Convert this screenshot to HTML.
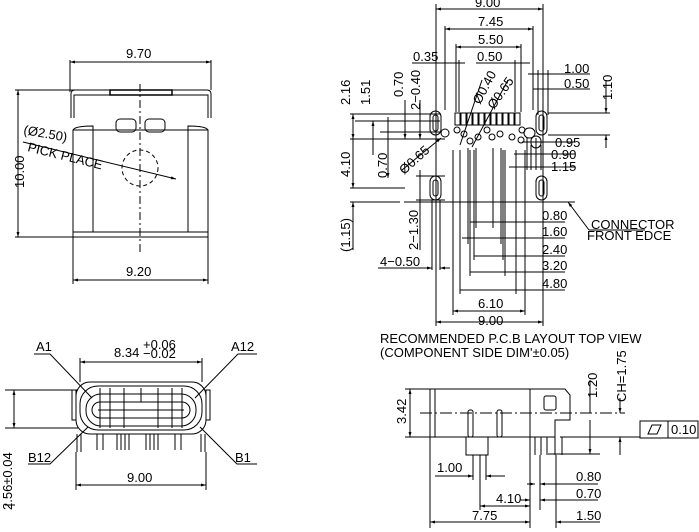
<!DOCTYPE html>
<html><head><style>body{margin:0;background:#fff}svg{display:block}text{font-family:"Liberation Sans",sans-serif;font-size:13px;fill:#000}</style></head><body>
<svg width="699" height="532" viewBox="0 0 699 532" xmlns="http://www.w3.org/2000/svg">
<defs><marker id="a" viewBox="0 0 10 10" refX="10" refY="5" markerWidth="7" markerHeight="5" orient="auto-start-reverse"><path d="M0,2L10,5L0,8z" fill="#000"/></marker></defs>
<g stroke="#000" stroke-width="1" fill="none">
<line x1="70" y1="60" x2="70" y2="92"/><line x1="211" y1="60" x2="211" y2="90"/>
<line x1="70" y1="62" x2="211" y2="62" marker-start="url(#a)" marker-end="url(#a)"/>
<path d="M71,118V94Q71,90 75,90H207Q211,90 211,94V118"/>
<path d="M74,118V95H208V118"/>
<rect x="110" y="90" width="62" height="5" stroke-width="1.5"/>
<rect x="73" y="130" width="135" height="107"/>
<line x1="73" y1="232" x2="208" y2="232"/>
<line x1="93" y1="130" x2="93" y2="232"/><line x1="188" y1="130" x2="188" y2="232"/>
<path d="M73,130Q75,126 93,126V130M208,130Q206,126 188,126V130"/>
<rect x="116" y="119" width="20" height="13" rx="4"/><rect x="145" y="119" width="20" height="13" rx="4"/>
<line x1="140" y1="84" x2="140" y2="252" stroke-dasharray="8,3,2,3"/>
<circle cx="140" cy="168" r="18" stroke-dasharray="4,3"/>
<line x1="23" y1="142" x2="176" y2="179" marker-end="url(#a)"/>
<line x1="15" y1="90" x2="75" y2="90"/><line x1="15" y1="237" x2="73" y2="237"/>
<line x1="18" y1="90" x2="18" y2="237" marker-start="url(#a)" marker-end="url(#a)"/>
<line x1="73" y1="237" x2="73" y2="284"/><line x1="208" y1="237" x2="208" y2="284"/>
<line x1="73" y1="280" x2="208" y2="280" marker-start="url(#a)" marker-end="url(#a)"/>
<line x1="436" y1="4" x2="436" y2="326"/><line x1="543" y1="4" x2="543" y2="326"/>
<line x1="436" y1="9" x2="543" y2="9" marker-start="url(#a)" marker-end="url(#a)"/>
<line x1="445" y1="26" x2="445" y2="110"/><line x1="533" y1="26" x2="533" y2="110"/>
<line x1="445" y1="29" x2="533" y2="29" marker-start="url(#a)" marker-end="url(#a)"/>
<line x1="456" y1="44" x2="456" y2="112"/><line x1="521" y1="44" x2="521" y2="112"/>
<line x1="456" y1="47" x2="521" y2="47" marker-start="url(#a)" marker-end="url(#a)"/>
<line x1="412" y1="63" x2="465" y2="63"/><line x1="476" y1="63" x2="530" y2="63"/>
<line x1="459" y1="60" x2="459" y2="112"/><line x1="515" y1="60" x2="515" y2="112"/>
<line x1="528" y1="74" x2="590" y2="74"/><line x1="533" y1="89" x2="590" y2="89"/>
<line x1="538" y1="70" x2="538" y2="115"/><line x1="543" y1="70" x2="543" y2="115"/>
<line x1="548" y1="70" x2="548" y2="115"/>
<g>
<rect x="455" y="113" width="5" height="12"/><rect x="461" y="113" width="5" height="12"/><rect x="467" y="113" width="5" height="12"/><rect x="473" y="113" width="5" height="12"/><rect x="479" y="113" width="5" height="12"/><rect x="485" y="113" width="5" height="12"/><rect x="491" y="113" width="5" height="12"/><rect x="497" y="113" width="5" height="12"/><rect x="503" y="113" width="5" height="12"/><rect x="509" y="113" width="5" height="12"/><rect x="515" y="113" width="5" height="12"/>
</g>
<rect x="430" y="111" width="11" height="24" rx="5.5"/><rect x="433" y="115" width="5" height="16" rx="2.5"/>
<rect x="536" y="111" width="11" height="24" rx="5.5"/><rect x="539" y="115" width="5" height="16" rx="2.5"/>
<rect x="430" y="176" width="11" height="24" rx="5.5"/><rect x="433" y="180" width="5" height="16" rx="2.5"/>
<rect x="536" y="176" width="11" height="24" rx="5.5"/><rect x="539" y="180" width="5" height="16" rx="2.5"/>
<circle cx="445" cy="133" r="4"/><circle cx="457" cy="130" r="3"/><circle cx="470" cy="141" r="3"/><circle cx="464" cy="134" r="3"/><circle cx="478" cy="137" r="3"/><circle cx="487" cy="130" r="3"/><circle cx="492" cy="137" r="3"/><circle cx="500" cy="134" r="3"/><circle cx="512" cy="137" r="3"/><circle cx="521" cy="140" r="3"/>
<circle cx="522" cy="130" r="3"/><rect x="524" y="128" width="11" height="10" rx="5"/><rect x="531" y="136" width="10" height="12" rx="5"/>
<line x1="350" y1="114" x2="440" y2="114"/><line x1="355" y1="121" x2="440" y2="121"/>
<line x1="350" y1="139" x2="445" y2="139"/><line x1="380" y1="132" x2="440" y2="132"/>
<line x1="353" y1="114" x2="353" y2="139" marker-start="url(#a)" marker-end="url(#a)"/>
<line x1="373" y1="121" x2="373" y2="155" marker-start="url(#a)"/>
<line x1="388" y1="117" x2="388" y2="178" marker-end="url(#a)"/>
<line x1="405" y1="100" x2="405" y2="139" marker-end="url(#a)"/>
<line x1="420" y1="100" x2="420" y2="139" marker-end="url(#a)"/>
<line x1="353" y1="139" x2="353" y2="188" marker-end="url(#a)"/>
<line x1="350" y1="188" x2="405" y2="188"/>
<line x1="350" y1="202" x2="400" y2="202"/><line x1="404" y1="202" x2="575" y2="202"/>
<line x1="353" y1="202" x2="353" y2="250" marker-start="url(#a)"/>
<line x1="420" y1="170" x2="420" y2="250"/>
<line x1="416" y1="176" x2="445" y2="176"/><line x1="416" y1="200" x2="445" y2="200"/>
<line x1="432" y1="200" x2="432" y2="270"/><line x1="440" y1="200" x2="440" y2="270"/>
<line x1="378" y1="268" x2="432" y2="268" marker-end="url(#a)"/><line x1="450" y1="268" x2="440" y2="268" marker-end="url(#a)"/>
<line x1="402" y1="170" x2="441" y2="138" marker-end="url(#a)"/>
<line x1="460" y1="145" x2="482" y2="80"/><line x1="472" y1="147" x2="508" y2="80"/>
<line x1="522" y1="142" x2="575" y2="142"/><line x1="514" y1="154" x2="575" y2="154"/><line x1="509" y1="167" x2="575" y2="167"/>
<line x1="527" y1="138" x2="527" y2="170"/><line x1="536" y1="138" x2="536" y2="170"/><line x1="531" y1="145" x2="531" y2="170"/><line x1="541" y1="145" x2="541" y2="170"/>
<line x1="548" y1="113" x2="610" y2="113"/><line x1="548" y1="135" x2="610" y2="135"/>
<line x1="606" y1="80" x2="606" y2="113" marker-end="url(#a)"/><line x1="606" y1="148" x2="606" y2="135" marker-end="url(#a)"/>
<line x1="568" y1="202" x2="589" y2="230" marker-start="url(#a)"/><line x1="589" y1="230" x2="645" y2="230"/>
<line x1="476" y1="148" x2="476" y2="228"/><line x1="493" y1="148" x2="493" y2="228"/>
<line x1="468" y1="148" x2="468" y2="244"/><line x1="501" y1="148" x2="501" y2="244"/>
<line x1="474" y1="150" x2="474" y2="260"/><line x1="503" y1="150" x2="503" y2="260"/>
<line x1="470" y1="150" x2="470" y2="276"/><line x1="505" y1="150" x2="505" y2="276"/>
<line x1="460" y1="150" x2="460" y2="294"/><line x1="516" y1="150" x2="516" y2="294"/>
<line x1="453" y1="150" x2="453" y2="315"/><line x1="525" y1="150" x2="525" y2="315"/>
<line x1="470" y1="222" x2="565" y2="222"/><line x1="462" y1="238" x2="565" y2="238"/><line x1="474" y1="256" x2="565" y2="256"/><line x1="470" y1="272" x2="565" y2="272"/><line x1="460" y1="290" x2="565" y2="290"/>
<line x1="453" y1="311" x2="525" y2="311" marker-start="url(#a)" marker-end="url(#a)"/>
<line x1="436" y1="322" x2="543" y2="322" marker-start="url(#a)" marker-end="url(#a)"/>
<line x1="80" y1="358" x2="80" y2="382"/><line x1="202" y1="358" x2="202" y2="382"/>
<line x1="80" y1="362" x2="202" y2="362" marker-start="url(#a)" marker-end="url(#a)"/>
<path d="M34,354H50L92,398M257,354H238L195,398M28,464H50L88,427M257,464H237L200,427"/>
<rect x="76" y="382" width="130" height="52" rx="14"/>
<rect x="72" y="390" width="4" height="30"/><rect x="206" y="390" width="4" height="30"/>
<rect x="80" y="386" width="122" height="44" rx="18"/>
<rect x="86" y="394" width="110" height="32" rx="15"/>
<rect x="92" y="402" width="98" height="16" rx="8"/>
<line x1="98" y1="410" x2="184" y2="410"/>
<line x1="100" y1="388" x2="100" y2="428"/><line x1="110" y1="388" x2="110" y2="428"/><line x1="124" y1="388" x2="124" y2="428"/><line x1="141" y1="388" x2="141" y2="402"/><line x1="158" y1="388" x2="158" y2="428"/><line x1="172" y1="388" x2="172" y2="428"/><line x1="182" y1="388" x2="182" y2="428"/>
<path d="M77,434V452M81,434V452M97,434V450M103,434V450M117,434V450M121,434V450M125,434V450M129,434V450M146,434V450M150,434V450M154,434V450M158,434V450M175,434V450M181,434V450M201,434V452M205,434V452"/>
<line x1="76" y1="452" x2="76" y2="490"/><line x1="206" y1="452" x2="206" y2="490"/>
<line x1="76" y1="485" x2="206" y2="485" marker-start="url(#a)" marker-end="url(#a)"/>
<line x1="5" y1="390" x2="78" y2="390"/><line x1="5" y1="428" x2="78" y2="428"/>
<line x1="14" y1="390" x2="14" y2="428" marker-start="url(#a)" marker-end="url(#a)"/>
<line x1="5" y1="505" x2="15" y2="505"/>
<rect x="430" y="389" width="100" height="48"/>
<line x1="435" y1="389" x2="435" y2="437"/>
<path d="M530,389H565L570,395V420H555V437H530"/>
<rect x="544" y="396" width="12" height="14" rx="2"/>
<line x1="420" y1="413" x2="625" y2="413" stroke-dasharray="12,3,2,3"/>
<path d="M466,437V455H488V437"/>
<rect x="468" y="410" width="5" height="27" rx="2"/><rect x="497" y="410" width="5" height="27" rx="2"/>
<path d="M535,437V455M541,437V455M547,437V455M555,437V455M562,437V455"/>
<line x1="405" y1="389" x2="432" y2="389"/><line x1="405" y1="437" x2="432" y2="437"/>
<line x1="410" y1="389" x2="410" y2="437" marker-start="url(#a)" marker-end="url(#a)"/>
<line x1="430" y1="437" x2="430" y2="528"/><line x1="530" y1="430" x2="530" y2="528"/>
<line x1="540" y1="455" x2="540" y2="510"/><line x1="556" y1="455" x2="556" y2="528"/>
<line x1="480" y1="455" x2="480" y2="510"/><line x1="473" y1="455" x2="473" y2="480"/><line x1="486" y1="455" x2="486" y2="480"/>
<line x1="430" y1="522" x2="530" y2="522" marker-start="url(#a)" marker-end="url(#a)"/>
<line x1="480" y1="506" x2="530" y2="506" marker-start="url(#a)" marker-end="url(#a)"/>
<line x1="435" y1="476" x2="473" y2="476" marker-end="url(#a)"/><line x1="505" y1="476" x2="486" y2="476" marker-end="url(#a)"/>
<line x1="520" y1="500" x2="530" y2="500" marker-end="url(#a)"/><line x1="548" y1="500" x2="540" y2="500" marker-end="url(#a)"/><line x1="540" y1="500" x2="598" y2="500"/>
<line x1="570" y1="522" x2="556" y2="522" marker-end="url(#a)"/><line x1="556" y1="522" x2="600" y2="522"/>
<line x1="527" y1="484" x2="535" y2="484" marker-end="url(#a)"/><line x1="548" y1="484" x2="540" y2="484" marker-end="url(#a)"/><line x1="540" y1="484" x2="598" y2="484"/>
<line x1="548" y1="454" x2="600" y2="454"/><line x1="560" y1="437" x2="640" y2="437"/>
<line x1="590" y1="420" x2="590" y2="454" marker-end="url(#a)"/><line x1="590" y1="380" x2="590" y2="413"/>
<line x1="620" y1="398" x2="620" y2="413" marker-end="url(#a)"/><line x1="620" y1="455" x2="620" y2="437" marker-end="url(#a)"/>
<rect x="640" y="421" width="28" height="17"/><rect x="668" y="421" width="30" height="17"/>
<path d="M648,434L652,425H661L657,434Z"/>
</g>
<text x="126" y="58">9.70</text>
<text x="126" y="276">9.20</text>
<text transform="translate(24,188) rotate(-90)" font-size="14">10.00</text>
<text transform="translate(23,134) rotate(10)" font-size="14">(Ø2.50)</text>
<text transform="translate(27,151) rotate(14)" font-size="7">PICK  PLACE</text>
<text x="475" y="7">9.00</text><text x="478" y="26">7.45</text><text x="478" y="44">5.50</text>
<text x="413" y="61">0.35</text><text x="477" y="61">0.50</text><text x="564" y="73">1.00</text><text x="564" y="88">0.50</text>
<text transform="translate(612,100) rotate(-90)">1.10</text>
<text transform="translate(350,105) rotate(-90)">2.16</text>
<text transform="translate(370,105) rotate(-90)">1.51</text>
<text transform="translate(403,97) rotate(-90)">0.70</text>
<text transform="translate(420,110) rotate(-90)">2−0.40</text>
<text transform="translate(480,105) rotate(-62)" font-size="11">Ø0.40</text>
<text transform="translate(494,110) rotate(-55)" font-size="11">Ø0.65</text>
<text transform="translate(404,175) rotate(-42)" font-size="11">Ø0.65</text>
<text transform="translate(387,178) rotate(-90)">0.70</text>
<text transform="translate(350,177) rotate(-90)">4.10</text>
<text transform="translate(350,252) rotate(-90)">(1.15)</text>
<text transform="translate(418,250) rotate(-90)">2−1.30</text>
<text x="380" y="266">4−0.50</text>
<text x="555" y="147">0.95</text><text x="551" y="159">0.90</text><text x="551" y="171">1.15</text>
<text x="591" y="229" font-size="9">CONNECTOR</text><text x="587" y="240" font-size="9">FRONT EDCE</text>
<text x="542" y="220">0.80</text><text x="542" y="236">1.60</text><text x="542" y="254">2.40</text><text x="542" y="270">3.20</text><text x="542" y="288">4.80</text>
<text x="478" y="308">6.10</text><text x="478" y="325">9.00</text>
<text x="380" y="343" font-size="10.5">RECOMMENDED P.C.B LAYOUT TOP VIEW</text>
<text x="380" y="357" font-size="10.5">(COMPONENT SIDE DIM'±0.05)</text>
<text x="36" y="351">A1</text><text x="231" y="351">A12</text>
<text x="114" y="357">8.34</text><text x="143" y="349" font-size="8">+0.06</text><text x="143" y="358" font-size="8">−0.02</text>
<text x="28" y="462">B12</text><text x="235" y="462">B1</text>
<text x="127" y="482">9.00</text>
<text transform="translate(12,510) rotate(-90)">2.56±0.04</text>
<text transform="translate(406,424) rotate(-90)">3.42</text>
<text transform="translate(597,398) rotate(-90)">1.20</text>
<text transform="translate(626,402) rotate(-90)">CH=1.75</text>
<text x="671" y="434">0.10</text>
<text x="437" y="472">1.00</text><text x="576" y="481">0.80</text><text x="496" y="503">4.10</text><text x="576" y="498">0.70</text>
<text x="472" y="520">7.75</text><text x="576" y="520">1.50</text>
</svg>
</body></html>
